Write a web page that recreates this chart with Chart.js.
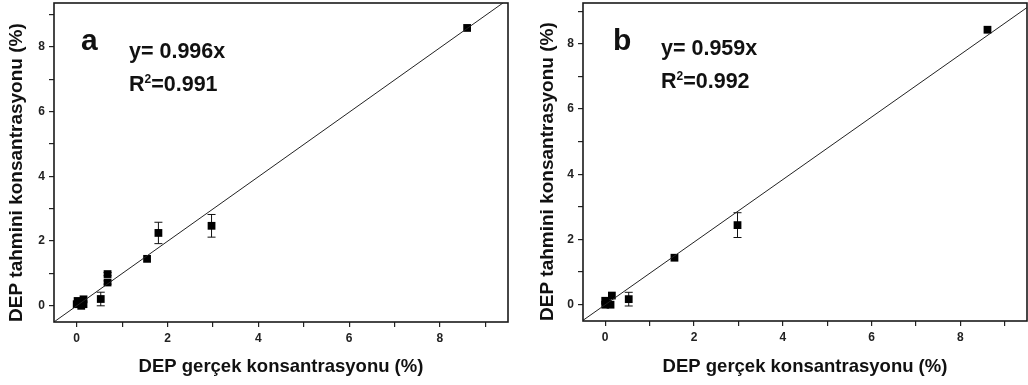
<!DOCTYPE html>
<html>
<head>
<meta charset="utf-8">
<script src="https://cdn.jsdelivr.net/npm/chart.js"></script>
<style>
  body { margin: 0; background: #fff; overflow: hidden; }
  #wrap { position: relative; width: 1028px; height: 385px; }
  canvas { position: absolute; top: 0; }
</style>
</head>
<body>
<div id="wrap">
  <canvas id="chartA" style="left:0px"></canvas>
  <canvas id="chartB" style="left:514px"></canvas>
</div>
<script>
// axis ticks (labels only on even values, odd ones are minor ticks)
var tickValues = [0, 1, 2, 3, 4, 5, 6, 7, 8, 9];
var xLimits = [-0.5, 9.5];

// panel a
var realA = [0, 0.02, 0.08, 0.1, 0.15, 0.15, 0.53, 0.68, 0.68, 1.55, 1.8, 2.97, 8.6];
var predA = [0.05, 0.15, 0.08, 0.0, 0.2, 0.05, 0.21, 0.98, 0.72, 1.45, 2.25, 2.47, 8.58];
var errA  = [0, 0, 0, 0, 0, 0, 0.21, 0.05, 0.05, 0, 0.33, 0.35, 0];
var slopeA = 0.996;
var r2A = "0.991";

// panel b
var realB = [0, 0.0, 0.05, 0.12, 0.15, 0.53, 1.56, 2.98, 8.61];
var predB = [0.0, 0.12, 0.05, 0.0, 0.28, 0.17, 1.44, 2.44, 8.43];
var errB  = [0, 0, 0, 0, 0, 0.21, 0, 0.38, 0];
var slopeB = 0.959;
var r2B = "0.992";

var FONT = "Arial, 'Liberation Sans', sans-serif";
var INK = "#111";

var panelPlugin = {
  id: "panelExtras",
  beforeDatasetsDraw: function(chart) {
    var o = chart.options.plugins.panelExtras;
    var ctx = chart.ctx, xs = chart.scales.x, ys = chart.scales.y;
    ctx.save();
    ctx.strokeStyle = INK;
    ctx.lineWidth = 1;
    for (var i = 0; i < o.real.length; i++) {
      if (!o.err[i]) continue;
      var px = xs.getPixelForValue(o.real[i]);
      var top = ys.getPixelForValue(o.pred[i] + o.err[i]);
      var bot = ys.getPixelForValue(o.pred[i] - o.err[i]);
      ctx.beginPath();
      ctx.moveTo(px, top); ctx.lineTo(px, bot);
      ctx.moveTo(px - 4, top); ctx.lineTo(px + 4, top);
      ctx.moveTo(px - 4, bot); ctx.lineTo(px + 4, bot);
      ctx.stroke();
    }
    ctx.restore();
  },
  afterDraw: function(chart) {
    var o = chart.options.plugins.panelExtras;
    var ctx = chart.ctx, a = chart.chartArea;
    ctx.save();
    // frame
    ctx.strokeStyle = "#1a1a1a";
    ctx.lineWidth = 1.6;
    ctx.strokeRect(a.left, a.top, a.right - a.left, a.bottom - a.top);
    // panel letter and fit text
    ctx.fillStyle = INK;
    ctx.textBaseline = "alphabetic";
    ctx.textAlign = "left";
    ctx.font = "bold 30px " + FONT;
    ctx.fillText(o.letter, a.left + o.letterDx, a.top + 47);
    ctx.font = "bold 21.5px " + FONT;
    var tx = a.left + o.textDx;
    ctx.fillText("y= " + o.slope.toFixed(3) + "x", tx, a.top + o.eqDy);
    var ry = a.top + o.eqDy + 33;
    ctx.fillText("R", tx, ry);
    var rw = ctx.measureText("R").width;
    ctx.font = "bold 12px " + FONT;
    ctx.fillText("2", tx + rw, ry - 8);
    var sw = ctx.measureText("2").width;
    ctx.font = "bold 21.5px " + FONT;
    ctx.fillText("=" + o.r2, tx + rw + sw, ry);
    ctx.restore();
  }
};

function makePanel(id, real, pred, err, slope, r2, letter, lay) {
  var canvas = document.getElementById(id);
  canvas.width = 514; canvas.height = 385;
  canvas.style.width = "514px"; canvas.style.height = "385px";
  var pts = real.map(function(x, i) { return { x: x, y: pred[i] }; });
  var fit = xLimits.map(function(x) { return { x: x, y: slope * x }; });
  var axisTicks = function(s) {
    s.ticks = tickValues.map(function(v) { return { value: v }; });
  };
  var tickLabel = function(v) { return v % 2 === 0 ? v : ""; };
  return new Chart(canvas.getContext("2d"), {
    type: "scatter",
    data: {
      datasets: [
        {
          type: "line",
          data: fit,
          borderColor: "#222",
          borderWidth: 1,
          pointRadius: 0,
          fill: false
        },
        {
          data: pts,
          pointStyle: "rect",
          pointRadius: 5.5,
          backgroundColor: "#000",
          borderColor: "#000",
          borderWidth: 0
        }
      ]
    },
    options: {
      responsive: false,
      animation: false,
      layout: { padding: lay.padding, autoPadding: false },
      plugins: {
        legend: { display: false },
        tooltip: { enabled: false },
        panelExtras: {
          real: real, pred: pred, err: err, slope: slope, r2: r2, letter: letter,
          letterDx: lay.letterDx, textDx: lay.textDx, eqDy: lay.eqDy
        }
      },
      scales: {
        x: {
          type: "linear",
          min: xLimits[0],
          max: xLimits[1],
          afterBuildTicks: axisTicks,
          afterFit: function(s) {
            s.height = lay.xHeight;
            s.paddingLeft = 0;
            s.paddingRight = 0;
          },
          border: { display: false },
          grid: { drawOnChartArea: false, drawTicks: true, tickLength: 5, color: "#222", lineWidth: 1.2 },
          ticks: { callback: tickLabel, color: "#222", padding: 4, font: { family: FONT, size: 12, weight: "bold" }, maxRotation: 0, autoSkip: false },
          title: {
            display: true,
            text: "DEP gerçek konsantrasyonu (%)",
            color: INK,
            font: { family: FONT, size: 18.5, weight: "bold" },
            padding: { top: 0, bottom: 7 }
          }
        },
        y: {
          type: "linear",
          min: -0.5,
          max: lay.yMax,
          afterBuildTicks: axisTicks,
          afterFit: function(s) {
            s.width = lay.yWidth;
            s.paddingTop = 0;
            s.paddingBottom = 0;
          },
          border: { display: false },
          grid: { drawOnChartArea: false, drawTicks: true, tickLength: 5, color: "#222", lineWidth: 1.2 },
          ticks: { callback: tickLabel, color: "#222", padding: 4, font: { family: FONT, size: 12, weight: "bold" }, autoSkip: false },
          title: {
            display: true,
            align: "start",
            text: "DEP tahmini konsantrasyonu (%)",
            color: INK,
            font: { family: FONT, size: 19, weight: "bold" },
            padding: { top: lay.yTitlePad, bottom: 0 }
          }
        }
      }
    },
    plugins: [panelPlugin]
  });
}

makePanel("chartA", realA, predA, errA, slopeA, r2A, "a", {
  padding: { top: 3, right: 6, left: 0, bottom: 0 },
  yWidth: 54, xHeight: 63, yMax: 9.35, yTitlePad: 5.6,
  letterDx: 27, textDx: 75, eqDy: 55
});
makePanel("chartB", realB, predB, errB, slopeB, r2B, "b", {
  padding: { top: 3, right: 1, left: 0, bottom: 0 },
  yWidth: 69, xHeight: 64, yMax: 9.25, yTitlePad: 22,
  letterDx: 30, textDx: 78, eqDy: 52
});
</script>
</body>
</html>
